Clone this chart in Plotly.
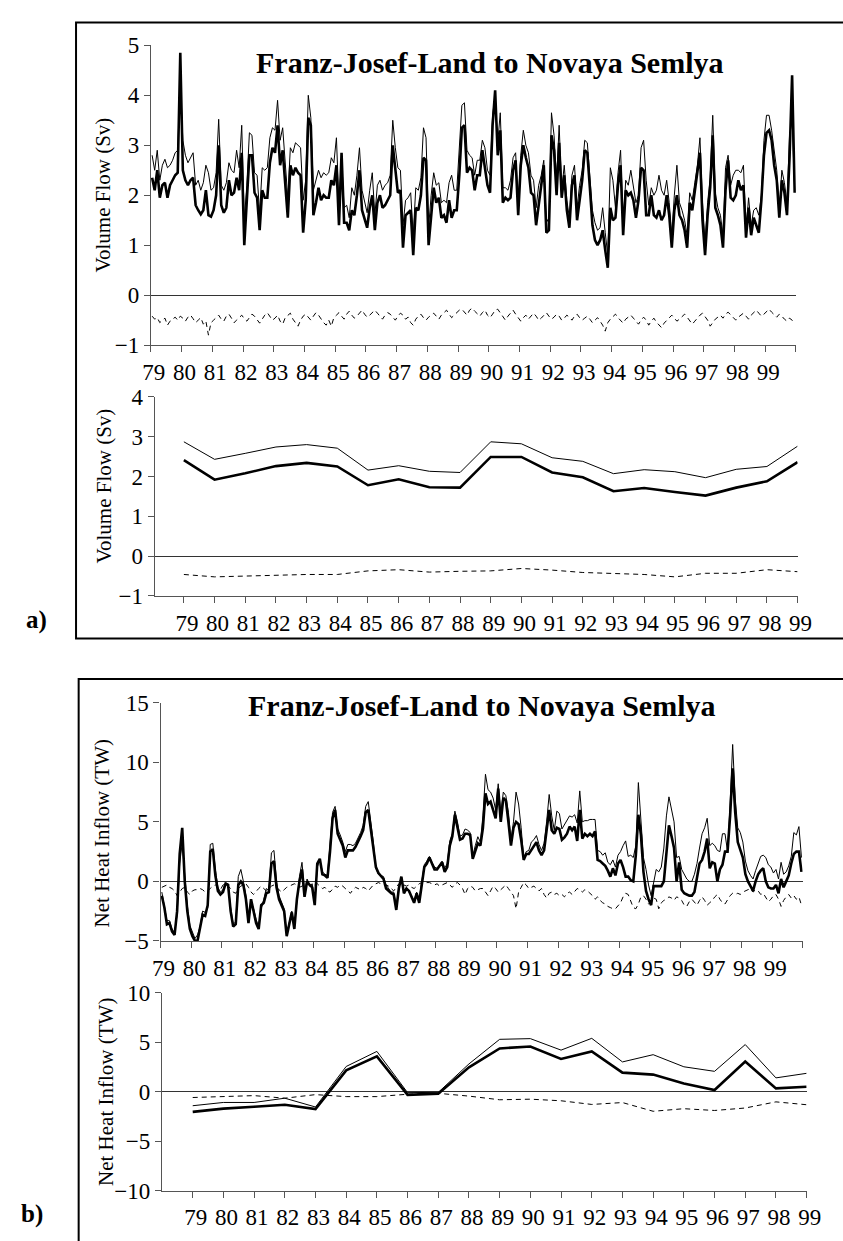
import numpy as np
import plotly.graph_objects as go

W, H = 843, 1241

# ---------------- data ----------------
years = list(range(79, 100))
year_labels = [str(y) for y in years]

# Panel a, monthly volume flow (Sv)
a_mon_thin = [
    2.8, 2.5, 2.9, 2.3, 2.6, 2.72, 2.55, 2.6, 2.7, 2.85, 2.9, 4.35,
    3.1, 2.8, 2.65, 2.75, 2.85, 2.2, 2.3, 2.1, 2.25, 2.6, 2.45, 2.1,
    2.15, 2.45, 3.52, 2.2, 2.1, 2.25, 2.65, 2.5, 2.45, 2.9, 2.55, 3.4,
    1.5, 2.2, 3.25, 3.2, 2.45, 2.4, 1.65, 2.55, 2.5, 2.55, 3.15, 3.35,
    3.3, 3.9, 3.1, 3.35, 2.6, 1.95, 2.95, 2.85, 3.05, 3.0, 2.95, 1.9,
    2.3, 4.0, 3.55, 2.1, 2.3, 2.5, 2.35, 2.45, 2.4, 2.45, 2.75, 2.65,
    3.15, 1.8, 2.75, 1.75, 1.8, 1.55, 2.15, 2.0, 2.4, 2.95, 2.1, 1.85,
    1.65, 2.1, 2.45, 1.6, 2.2, 2.3, 2.1, 2.2, 2.25, 2.4, 3.5, 2.95,
    2.55, 2.5, 1.4, 1.9, 1.95, 2.05, 1.2, 2.15, 2.1, 2.35, 3.35, 3.15,
    1.35, 2.0, 2.45, 2.2, 2.25, 1.85, 1.9, 1.85, 2.25, 2.4, 2.1, 2.1,
    2.9, 3.8, 3.85, 2.9, 2.8, 2.75, 2.4, 2.7, 2.7, 3.1, 2.95, 2.5,
    2.4, 3.6, 4.0, 3.05, 3.65, 2.15, 2.15, 2.1, 2.3, 2.75, 2.85, 1.85,
    2.8, 3.3, 3.0, 2.85, 2.4, 2.3, 1.75, 2.2, 2.4, 2.7, 1.45, 1.55,
    3.65, 3.2, 2.3, 3.4, 2.1, 2.6, 1.9, 1.55, 2.4, 2.6, 1.75, 2.2,
    2.5, 3.1, 3.05, 2.3, 1.7, 1.45, 1.3, 1.35, 1.75, 1.25, 0.8, 2.55,
    2.3, 1.75, 2.45, 2.9, 1.4, 2.3, 2.2, 2.5, 2.2, 1.85, 2.0, 2.95,
    3.1, 2.3, 1.8, 2.15, 2.0, 2.1, 2.4, 2.1, 2.0, 2.3, 1.85, 1.2,
    2.0, 2.6, 1.85, 1.7, 1.5, 1.2, 2.05, 1.9, 2.25, 2.6, 3.15, 1.85,
    1.05, 1.85, 2.35, 3.6, 2.05, 1.75, 1.6, 1.2, 2.55, 2.8, 2.2, 2.4,
    2.5, 2.5, 2.45, 2.6, 1.3, 1.95, 1.4, 1.7, 1.75, 1.6, 2.0, 3.1,
    3.6, 3.6, 3.3, 2.9, 2.5, 1.75, 2.5, 2.25, 1.85, 3.2, 3.5, 2.1,
]
a_mon_thick = [
    2.35, 2.1, 2.5, 1.95, 2.2, 2.25, 1.95, 2.2, 2.3, 2.4, 2.45, 4.85,
    2.5, 2.3, 2.2, 2.3, 2.35, 1.8, 1.7, 1.62, 1.7, 2.1, 1.6, 1.57,
    1.7, 2.0, 3.0, 1.8, 1.65, 1.75, 2.3, 2.0, 2.05, 2.35, 2.1, 2.85,
    1.0, 1.8, 2.8, 2.8, 2.05, 1.95, 1.3, 2.1, 1.95, 1.95, 2.65, 2.95,
    2.85, 3.4, 2.6, 2.9, 2.2, 1.55, 2.6, 2.4, 2.55, 2.45, 2.4, 1.25,
    1.9, 3.55, 3.4, 1.6, 1.85, 2.15, 1.9, 2.0, 1.95, 1.95, 2.3, 2.2,
    2.6, 1.4, 2.85, 1.45, 1.45, 1.3, 1.7, 1.6, 2.0, 2.5, 1.7, 1.5,
    1.35, 1.75, 2.0, 1.3, 1.85, 2.0, 1.75, 1.8, 1.9, 2.0, 3.0, 2.55,
    2.05, 2.1, 0.95, 1.6, 1.65, 1.7, 0.8, 1.75, 1.7, 2.0, 2.75, 2.7,
    1.0, 1.6, 2.15, 1.85, 1.95, 1.55, 1.6, 1.45, 1.9, 1.55, 1.7, 1.7,
    2.4, 3.35, 3.4, 2.45, 2.55, 2.5, 2.1, 2.4, 2.4, 2.9, 2.55, 2.2,
    2.05, 3.4, 4.1, 2.8, 3.3, 1.85, 1.95, 1.9, 1.95, 2.5, 2.7, 1.6,
    2.6, 3.0, 2.75, 2.55, 2.05, 2.0, 1.4, 1.8, 2.2, 2.6, 1.25, 1.3,
    3.2, 2.9, 2.0, 3.05, 1.95, 2.4, 1.7, 1.35, 2.2, 2.4, 1.5, 1.95,
    2.3, 2.9, 2.85, 2.15, 1.4, 1.1, 1.0, 1.1, 1.3, 0.9, 0.55, 1.75,
    1.5, 1.55, 2.2, 2.6, 1.2, 2.1, 2.0, 2.05, 1.9, 1.55, 1.9, 2.55,
    2.5, 1.6, 1.6, 2.0, 1.6, 1.55, 1.7, 1.5, 1.6, 2.0, 1.6, 0.95,
    1.7, 2.0, 1.6, 1.5, 1.3, 0.95, 1.85, 1.7, 2.1, 2.45, 2.85, 1.5,
    0.8, 1.6, 2.15, 3.2, 1.75, 1.6, 1.4, 0.95, 2.1, 2.7, 1.95, 1.9,
    2.0, 2.3, 2.1, 2.2, 1.15, 1.75, 1.2, 1.55, 1.4, 1.25, 1.9, 2.8,
    3.25, 3.3, 3.1, 2.6, 2.3, 1.55, 2.3, 2.05, 1.6, 2.75, 4.4, 2.05,
]
a_mon_dash = [
    -0.42, -0.48, -0.45, -0.55, -0.5, -0.46, -0.6, -0.52, -0.48, -0.44, -0.5, -0.42,
    -0.46, -0.52, -0.44, -0.4, -0.47, -0.55, -0.5, -0.45, -0.58, -0.52, -0.8, -0.55,
    -0.5, -0.45, -0.4, -0.48, -0.52, -0.42, -0.38, -0.46, -0.55, -0.5, -0.44, -0.4,
    -0.47, -0.52, -0.45, -0.38, -0.42, -0.5, -0.56, -0.48, -0.4, -0.35, -0.44, -0.5,
    -0.46, -0.4, -0.52, -0.58, -0.45, -0.4, -0.36, -0.48, -0.55, -0.62, -0.5, -0.42,
    -0.38, -0.45, -0.5, -0.42, -0.35, -0.4, -0.48, -0.55, -0.6, -0.5, -0.62, -0.45,
    -0.4, -0.35, -0.42, -0.48, -0.38, -0.32, -0.4, -0.46, -0.42, -0.36, -0.3, -0.38,
    -0.44, -0.4, -0.34, -0.3, -0.36, -0.42, -0.48, -0.4, -0.35, -0.38, -0.45, -0.5,
    -0.42, -0.36, -0.4, -0.48, -0.44, -0.55, -0.6, -0.48, -0.42, -0.38, -0.45, -0.5,
    -0.44, -0.4, -0.36, -0.42, -0.48, -0.4, -0.35, -0.3, -0.38, -0.45, -0.4, -0.34,
    -0.3, -0.28, -0.35, -0.4, -0.3, -0.26, -0.32, -0.38, -0.42, -0.35, -0.3, -0.4,
    -0.45, -0.38, -0.3, -0.28, -0.36, -0.44, -0.5, -0.42, -0.35, -0.3, -0.38, -0.46,
    -0.52, -0.45, -0.4, -0.48, -0.42, -0.36, -0.42, -0.5, -0.46, -0.4, -0.35, -0.42,
    -0.48, -0.44, -0.38, -0.42, -0.5, -0.46, -0.4, -0.44, -0.5, -0.42, -0.38, -0.45,
    -0.5, -0.46, -0.42, -0.48, -0.55, -0.5, -0.45, -0.52, -0.6, -0.72, -0.55, -0.48,
    -0.42, -0.38, -0.45, -0.5, -0.56, -0.48, -0.44, -0.4, -0.46, -0.52, -0.58, -0.5,
    -0.44, -0.5, -0.6, -0.52, -0.46, -0.54, -0.6, -0.65, -0.56, -0.5, -0.46, -0.4,
    -0.46, -0.52, -0.48, -0.42, -0.38, -0.44, -0.5, -0.58, -0.52, -0.45, -0.4, -0.36,
    -0.42, -0.5, -0.62, -0.55, -0.48, -0.44, -0.4, -0.46, -0.38, -0.34, -0.4, -0.46,
    -0.5, -0.44, -0.4, -0.36, -0.42, -0.48, -0.4, -0.35, -0.3, -0.36, -0.42, -0.38,
    -0.32, -0.28, -0.34, -0.4, -0.44, -0.38, -0.42, -0.48, -0.52, -0.46, -0.5, -0.56,
]

# Panel a, annual means
a_ann_thin = [2.87, 2.43, 2.58, 2.74, 2.80, 2.71, 2.16, 2.27, 2.13, 2.10, 2.87,
              2.82, 2.47, 2.38, 2.07, 2.17, 2.12, 1.97, 2.18, 2.25, 2.76]
a_ann_thick = [2.41, 1.92, 2.08, 2.26, 2.34, 2.25, 1.78, 1.93, 1.73, 1.72, 2.49,
               2.49, 2.10, 1.98, 1.63, 1.71, 1.61, 1.52, 1.72, 1.88, 2.36]
a_ann_dash = [-0.46, -0.52, -0.50, -0.48, -0.46, -0.46, -0.37, -0.34, -0.40, -0.38, -0.37,
              -0.31, -0.35, -0.41, -0.44, -0.46, -0.52, -0.43, -0.43, -0.34, -0.39]

# Panel b, monthly net heat inflow (TW)
b_mon_thin = [
    -0.9, -2.0, -3.3, -3.3, -4.0, -4.3, -2.8, 1.5, 3.2, 0.5, -2.0, -3.7,
    -4.3, -4.8, -4.5, -3.8, -2.5, -2.6, -2.2, 3.1, 3.2, 1.0, -0.5, -0.9,
    -0.7, -0.1, -0.2, -2.2, -3.6, -3.4, 0.4, 1.0, 0.0, -1.2, -3.3, -1.8,
    -2.3, -3.2, -3.8, -2.3, -1.5, -0.6, -0.8, 2.4, 2.6, 0.0, -1.2, -1.8,
    -2.3, -4.4, -3.3, -2.5, -3.8, -1.4, 0.4, 1.6, -0.9, 0.2, -0.4, -0.2,
    -1.9, 1.2, 1.8, 0.8, 0.6, 0.5, 3.0, 5.8, 6.3, 4.4, 3.9, 3.3,
    2.5, 3.1, 3.1, 3.0, 3.2, 3.6, 4.1, 4.7, 6.3, 6.7, 5.0, 3.3,
    1.1, 0.6, 0.5, 0.4, -0.3, -0.6, -0.9, -0.9, -2.2, -0.5, 0.3, -0.8,
    -0.5, -0.9, -1.2, -1.6, -0.9, -1.5, 0.0, 1.4, 1.7, 2.1, 1.6, 1.2,
    1.1, 1.4, 1.7, 1.1, 1.5, 3.4, 4.0, 5.9, 5.0, 3.8, 3.9, 4.4,
    4.3, 4.1, 2.1, 3.0, 3.75, 3.3, 5.5, 9.0, 7.7, 7.5, 7.0, 6.0,
    8.2, 5.6, 7.5, 7.2, 5.8, 3.5, 5.0, 7.5, 6.5, 4.5, 1.9, 2.5,
    2.6, 3.3, 3.5, 3.85, 3.1, 2.6, 3.2, 5.0, 7.3, 5.5, 4.3, 5.9,
    5.7, 4.4, 4.8, 5.1, 5.5, 5.4, 5.6, 4.9, 7.6, 5.0, 5.1, 5.1,
    5.2, 5.2, 5.2, 2.6, 2.5, 2.2, 2.4, 1.6, 1.4, 1.8, 1.2, 2.2,
    2.5, 3.0, 3.4, 2.1, 2.2, 2.0, 3.0, 8.3, 5.5, 2.0, 1.0, -0.3,
    -1.2, 0.0, 1.0, 0.8, 1.2, 2.8, 5.5, 7.1, 6.0, 5.0, 2.0, 2.1,
    1.0, 0.6, 0.2, 0.0, 0.0, 0.6, 1.5, 2.8, 4.0, 4.5, 5.3, 3.0,
    3.2, 3.0, 2.6, 2.5, 4.0, 4.0, 2.5, 6.5, 11.5, 7.0, 4.5, 4.1,
    3.3, 1.7, 0.9, 0.5, 0.2, 0.9, 1.5, 2.1, 2.2, 2.0, 1.4, 1.2,
    0.7, 1.0, 0.2, 1.6, 0.6, 0.8, 1.3, 2.1, 4.1, 3.9, 4.6, 2.0,
]
b_mon_thick = [
    -1.2, -2.2, -3.6, -3.5, -4.2, -4.5, -2.5, 2.3, 4.5, 0.0, -2.5, -4.0,
    -4.6, -5.0, -5.0, -4.0, -2.8, -2.9, -2.0, 2.5, 2.7, 0.5, -0.8, -1.1,
    -0.9, -0.2, -0.3, -2.5, -3.8, -3.6, -0.3, 0.0, -0.3, -1.5, -3.5, -1.5,
    -2.5, -3.5, -4.0, -2.0, -1.8, -1.0, -0.9, 1.5, 1.7, -0.5, -1.5, -2.0,
    -2.5, -4.6, -3.5, -2.6, -4.0, -1.5, 0.0, 1.0, -1.3, 0.0, -0.3, -0.5,
    -2.0, 1.5, 1.9, 0.6, 0.5, 0.3, 2.5, 5.3, 6.0, 4.0, 3.5, 3.0,
    2.0, 2.6, 2.6, 2.6, 2.9, 3.3, 3.8, 4.3, 5.8, 6.0, 4.5, 3.0,
    1.2, 0.7, 0.4, 0.2, -0.6, -0.8, -1.0, -1.1, -2.4, -0.6, 0.4, -1.0,
    -0.6, -0.8, -1.3, -1.8, -1.0, -1.8, -0.3, 1.2, 1.5, 2.0, 1.5, 1.0,
    1.0, 1.3, 1.6, 0.8, 1.2, 3.0, 3.8, 5.6, 4.5, 3.5, 3.6, 4.0,
    4.0, 3.9, 1.9, 2.6, 3.2, 3.0, 4.5, 7.4, 6.5, 6.7, 6.0, 5.3,
    7.8, 5.0, 7.0, 6.8, 5.0, 3.0, 4.5, 5.0, 4.8, 3.5, 1.8, 2.3,
    2.3, 2.6, 2.9, 3.3, 2.6, 2.2, 2.6, 4.2, 6.0, 4.3, 4.0, 4.5,
    4.4, 3.5, 3.7, 4.0, 4.6, 4.3, 4.6, 3.4, 6.0, 3.6, 4.0, 3.8,
    4.0, 3.8, 4.2, 1.8, 1.7, 1.5, 1.3, 0.9, 0.4, 1.1, 0.5, 1.5,
    1.8, 1.2, 0.4, 0.4, 0.1, 0.0, 2.2, 5.6, 3.9, 0.8, -0.8, -1.5,
    -2.0, -0.4, -0.4, -0.4, -0.4, 0.0, 2.7, 4.7, 3.8, 2.8, 0.0, 1.6,
    -0.7, -1.0, -1.1, -1.2, -1.2, -0.9, 0.3, 1.5, 1.8, 2.5, 3.6, 1.1,
    1.6, 1.5, 0.0, 1.0, 1.4, 2.5, 2.5, 5.5, 9.5, 5.8, 3.3, 2.6,
    2.0, 0.6, 0.0, -0.4, -0.8, 0.0, 0.6, 0.9, 1.1, 0.0, -0.5, -0.6,
    -0.6, -0.3, -1.0, 0.2, -0.5, 0.0, 0.5, 1.5, 2.3, 2.5, 2.5, 0.8,
]
b_mon_dash = [
    -0.5, -0.4, -0.3, -0.5, -0.6, -0.8, -1.2, -0.9, -0.6, -0.5, -0.9, -1.1,
    -0.8, -0.7, -0.7, -0.6, -0.7, -0.9, -0.8, -0.6, -0.4, -0.3, -0.5, -0.7,
    -0.3, -0.2, -0.4, -0.6, -0.9, -1.0, -0.6, -0.4, -0.3, -0.2, -0.5, -0.9,
    -1.1, -0.8, -0.6, -0.4, -0.6, -0.8, -0.6, -0.4, -0.3, -0.5, -0.7, -0.9,
    -0.7, -0.5, -0.4, -0.3, -0.2, -0.3, -0.5, -0.4, -0.3, -0.2, -0.3, -0.4,
    -0.3, -0.2, -0.4, -0.6, -0.5, -0.8, -0.9, -0.6, -0.4, -0.5, -0.3, -0.4,
    -0.6, -0.8, -1.0, -0.7, -0.5, -0.6, -0.7, -0.5, -0.6, -0.8, -0.5, -0.3,
    -0.2, -0.1, -0.2, -0.3, -0.3, -0.4, -0.6, -0.8, -0.5, -0.2, -0.1, -0.3,
    -0.4, -0.3, -0.5, -0.6, -0.4, -0.2, -0.1, -0.2, -0.1, -0.1, -0.2, -0.3,
    -0.2, -0.4, -0.3, -0.2, -0.1, -0.3, -0.5, -0.2, -0.1, -0.3, -0.6, -1.1,
    -0.6, -0.4, -0.5, -0.8, -0.7, -0.6, -0.6, -0.9, -1.2, -0.8, -0.4, -0.6,
    -0.9, -0.7, -0.5, -0.3, -0.6, -0.9, -1.2, -2.3, -0.9, -0.5, -0.1, -0.3,
    -0.6, -0.5, -0.4, -0.6, -0.8, -0.6, -1.1, -1.4, -1.0, -0.9, -1.1, -1.0,
    -1.2, -1.1, -1.3, -1.0, -0.9, -1.1, -0.8, -0.6, -0.7, -0.9, -0.7, -0.8,
    -1.0, -1.2, -1.5, -1.3, -1.6, -1.8, -1.9, -2.1, -2.2, -2.3, -2.3, -2.0,
    -1.8, -1.3, -1.0, -1.1, -1.7, -2.2, -2.3, -1.9, -1.3, -1.2, -1.5, -1.9,
    -1.7, -1.4, -1.5, -2.3, -1.8, -1.6, -1.5, -1.3, -1.4, -1.6, -1.3, -1.4,
    -1.6, -2.0, -2.1, -1.7, -1.5, -1.8, -2.0, -1.6, -1.3, -1.6, -2.0, -1.8,
    -1.6, -1.3, -1.1, -1.5, -1.8, -1.9, -1.5, -1.2, -1.0, -1.1, -1.0, -1.1,
    -0.9, -0.8, -0.7, -0.6, -0.9, -0.7, -0.8, -1.1, -1.0, -1.4, -1.7, -1.5,
    -1.2, -1.1, -1.5, -2.1, -1.6, -1.3, -1.1, -1.4, -1.2, -1.5, -1.3, -2.0,
]

# Panel b, annual means
b_ann_thin = [-1.42, -1.09, -1.09, -0.66, -1.55, 2.54, 4.06, -0.10, -0.07, 2.80, 5.28,
              5.35, 4.19, 5.38, 3.00, 3.73, 2.51, 2.05, 4.75, 1.39, 1.85]
b_ann_thick = [-2.04, -1.71, -1.52, -1.32, -1.75, 2.15, 3.56, -0.33, -0.20, 2.45, 4.36,
               4.56, 3.30, 4.06, 1.92, 1.72, 0.83, 0.17, 3.04, 0.33, 0.50]
b_ann_dash = [-0.59, -0.50, -0.40, -0.66, -0.30, -0.50, -0.50, -0.26, -0.17, -0.45, -0.82,
              -0.76, -0.92, -1.29, -1.10, -1.98, -1.72, -1.90, -1.65, -1.03, -1.32]

title_text = "Franz-Josef-Land to Novaya Semlya"

# ---------------- figure ----------------
FONT = "Liberation Serif"
AX = "#555555"
n_months = len(a_mon_thick)
x_month = 79 + (np.arange(n_months) + 0.5) / 12.0


def px_x(p):
    return p / W


def px_y(p):
    return 1 - p / H


fig = go.Figure()


def add_set(xs, thin, thick, dash, xa, ya):
    fig.add_trace(go.Scatter(x=xs, y=dash, mode="lines", xaxis=xa, yaxis=ya,
                             line=dict(color="black", width=1, dash="5px,4px")))
    fig.add_trace(go.Scatter(x=xs, y=thin, mode="lines", xaxis=xa, yaxis=ya,
                             line=dict(color="black", width=1)))
    fig.add_trace(go.Scatter(x=xs, y=thick, mode="lines", xaxis=xa, yaxis=ya,
                             line=dict(color="black", width=2.6)))


add_set(x_month, a_mon_thin, a_mon_thick, a_mon_dash, "x", "y")
add_set(years, a_ann_thin, a_ann_thick, a_ann_dash, "x2", "y2")
add_set(x_month, b_mon_thin, b_mon_thick, b_mon_dash, "x3", "y3")
add_set(years, b_ann_thin, b_ann_thick, b_ann_dash, "x4", "y4")

tickfont = dict(family=FONT, size=23, color="black")


def xax(dom, rng, vals, texts, anchor):
    return dict(domain=dom, range=rng, anchor=anchor, tickmode="array",
                tickvals=vals, ticktext=texts, ticks="outside", ticklen=6,
                tickcolor=AX, showline=True, linecolor=AX, linewidth=1.2,
                showgrid=False, zeroline=False, tickfont=tickfont,
                ticklabelshift=3, ticklabelstandoff=0, fixedrange=True)


def yax(dom, rng, vals, anchor):
    return dict(domain=dom, range=rng, anchor=anchor, tickmode="array",
                tickvals=vals, ticks="outside", ticklen=6, tickcolor=AX,
                showline=True, linecolor=AX, linewidth=1.2, showgrid=False,
                zeroline=True, zerolinecolor="#333333", zerolinewidth=1.2,
                tickfont=tickfont, fixedrange=True)


mon_vals = years + [100]
mon_texts = year_labels + [""]

fig.update_layout(
    width=W, height=H, margin=dict(l=0, r=0, t=0, b=0),
    paper_bgcolor="white", plot_bgcolor="white", showlegend=False,
    font=dict(family=FONT, color="black"),
    xaxis=xax([px_x(146), px_x(810)], [79, 100], mon_vals, mon_texts, "y"),
    yaxis=yax([px_y(340), px_y(34)], [-1, 5], [-1, 0, 1, 2, 3, 4, 5], "x"),
    xaxis2=xax([px_x(150), px_x(811.7)], [78.05, 99], years, year_labels, "y2"),
    yaxis2=yax([px_y(596), px_y(392.7)], [-1, 4], [-1, 0, 1, 2, 3, 4], "x2"),
    xaxis3=xax([px_x(156), px_x(817)], [79, 100], mon_vals, mon_texts, "y3"),
    yaxis3=yax([px_y(948), px_y(705)], [-5, 15], [-5, 0, 5, 10, 15], "x3"),
    xaxis4=xax([px_x(157.5), px_x(821)], [78, 99], years, year_labels, "y4"),
    yaxis4=yax([px_y(1203), px_y(1000.7)], [-10, 10], [-10, -5, 0, 5, 10], "x4"),
)

# panel frames
fig.add_shape(type="rect", xref="paper", yref="paper",
              x0=px_x(69), x1=1.02, y0=px_y(639.3), y1=px_y(10.7),
              line=dict(color="black", width=2), layer="below")
fig.add_shape(type="rect", xref="paper", yref="paper",
              x0=px_x(71.7), x1=1.02, y0=-0.02, y1=px_y(680.7),
              line=dict(color="black", width=2), layer="below")

ann = []
ann.append(dict(text="<b>" + title_text + "</b>", x=px_x(495), y=px_y(52),
                font=dict(size=30, family=FONT)))
ann.append(dict(text="<b>" + title_text + "</b>", x=px_x(486), y=px_y(708),
                font=dict(size=30, family=FONT)))
ann.append(dict(text="Volume Flow (Sv)", x=px_x(97), y=px_y(187), textangle=-90,
                font=dict(size=21, family=FONT)))
ann.append(dict(text="Volume Flow (Sv)", x=px_x(98), y=px_y(484), textangle=-90,
                font=dict(size=21, family=FONT)))
ann.append(dict(text="Net Heat Inflow (TW)", x=px_x(96), y=px_y(838), textangle=-90,
                font=dict(size=21, family=FONT)))
ann.append(dict(text="Net Heat Inflow (TW)", x=px_x(100), y=px_y(1102), textangle=-90,
                font=dict(size=21, family=FONT)))
ann.append(dict(text="<b>a)</b>", x=px_x(28), y=px_y(621), font=dict(size=25, family=FONT)))
ann.append(dict(text="<b>b)</b>", x=px_x(24), y=px_y(1227), font=dict(size=25, family=FONT)))
for a in ann:
    a.update(xref="paper", yref="paper", showarrow=False, xanchor="center",
             yanchor="middle")
    a["font"]["color"] = "black"
fig.update_layout(annotations=ann)

fig.write_html("out.html")
